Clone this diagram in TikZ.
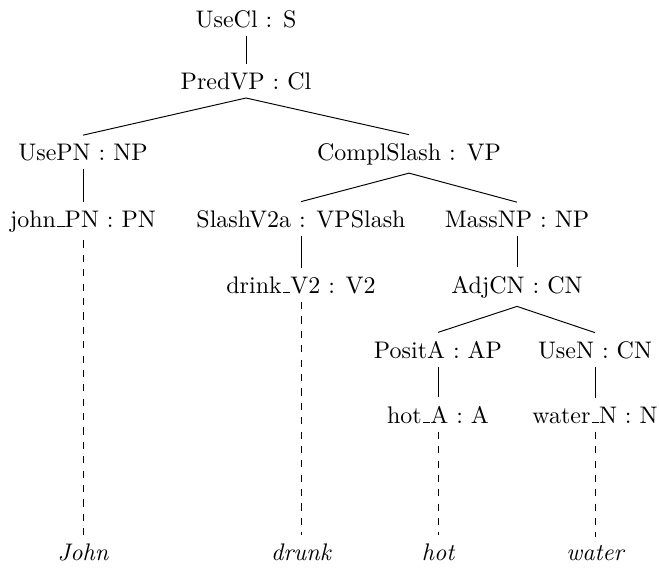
\documentclass[tikz,border=0pt]{standalone}
\usepackage{tikz}
\newcommand{\usc}{\leavevmode\kern.06em\vbox{\hrule width.3em}}
\tikzset{
  cat/.style={anchor=base, inner sep=3.33pt},
  leaf/.style={anchor=base, inner sep=3.33pt, font=\itshape},
  branch/.style={line width=0.4pt, draw=black},
  lexical/.style={branch, dashed}
}
\begin{document}
\begin{tikzpicture}[x=0.417pt, y=-0.417pt]
  \useasboundingbox (0,0) rectangle (659,568);
  \node[cat] (usecl) at (246,27) {UseCl : S};
  \node[cat] (predvp) at (246,89) {PredVP : Cl};
  \node[cat] (usepn) at (83,160) {UsePN : NP};
  \node[cat] (complslash) at (409,160) {ComplSlash : VP};
  \node[cat] (johnpn) at (83,227) {john\usc PN : PN};
  \node[cat] (slashvtwoa) at (301,227) {SlashV2a : VPSlash};
  \node[cat] (massnp) at (517,227) {MassNP : NP};
  \node[cat] (drinkvtwo) at (301,293) {drink\usc V2 : V2};
  \node[cat] (adjcn) at (517,293) {AdjCN : CN};
  \node[cat] (posita) at (438,358) {PositA : AP};
  \node[cat] (usen) at (595,358) {UseN : CN};
  \node[cat] (hota) at (438,423) {hot\usc A : A};
  \node[cat] (watern) at (595,423) {water\usc N : N};
  \node[leaf] (john) at (83,560) {John};
  \node[leaf] (drunk) at (301,560) {drunk};
  \node[leaf] (hot) at (438,560) {hot};
  \node[leaf] (water) at (595,560) {water};

  \draw[branch] (usecl.south) -- (predvp.north);
  \draw[branch] (predvp.south) -- (usepn.north);
  \draw[branch] (predvp.south) -- (complslash.north);
  \draw[branch] (usepn.south) -- (johnpn.north);
  \draw[branch] (complslash.south) -- (slashvtwoa.north);
  \draw[branch] (complslash.south) -- (massnp.north);
  \draw[branch] (slashvtwoa.south) -- (drinkvtwo.north);
  \draw[branch] (massnp.south) -- (adjcn.north);
  \draw[branch] (adjcn.south) -- (posita.north);
  \draw[branch] (adjcn.south) -- (usen.north);
  \draw[branch] (posita.south) -- (hota.north);
  \draw[branch] (usen.south) -- (watern.north);
  \draw[lexical] (johnpn.south) -- (john.north);
  \draw[lexical] (drinkvtwo.south) -- (drunk.north);
  \draw[lexical] (hota.south) -- (hot.north);
  \draw[lexical] (watern.south) -- (water.north);
\end{tikzpicture}
\end{document}
